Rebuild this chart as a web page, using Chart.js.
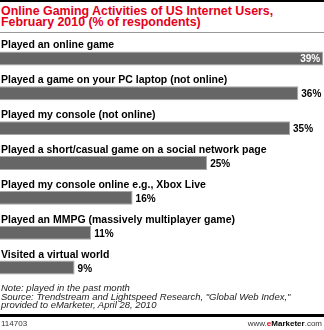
<!DOCTYPE html>
<html>
<head>
<meta charset="utf-8">
<script src="https://cdn.jsdelivr.net/npm/chart.js@4.4.0/dist/chart.umd.min.js"></script>
<style>
  html, body { margin: 0; padding: 0; width: 324px; height: 330px; overflow: hidden; background: #fff; }
  body { position: relative; font-family: 'Liberation Sans', Arial, sans-serif; }
  .topbar { position: absolute; left: 0; top: 0; width: 324px; height: 2px; background: #000; }
  .title { position: absolute; left: 1px; top: 6px; color: #e3001b; font-weight: bold; font-size: 12.4px; line-height: 11px; }
  .rule { position: absolute; left: 0; top: 32px; width: 324px; height: 1px; background: #999; }
  #wrap { position: absolute; left: 0; top: 36px; width: 324px; height: 249px; }
  .notes { position: absolute; left: 1px; top: 284px; font-style: italic; font-size: 9.5px; line-height: 8.6px; color: #222; }
  .bottombar { position: absolute; left: 0; top: 314px; width: 324px; height: 3px; background: #000; }
  .code { position: absolute; left: 1px; top: 319px; font-size: 8px; color: #333; }
  .site { position: absolute; right: 2px; top: 319px; font-size: 8px; color: #333; }
  .site b { color: #000; }
  .site .e { color: #e3001b; font-weight: bold; }
</style>
</head>
<body>
<div class="topbar"></div>
<div class="title">Online Gaming Activities of US Internet Users,<br>February 2010 (% of respondents)</div>
<div class="rule"></div>
<div id="wrap"><canvas id="chart"></canvas></div>
<div class="notes">Note: played in the past month<br>Source: Trendstream and Lightspeed Research, "Global Web Index,"<br>provided to eMarketer, April 28, 2010</div>
<div class="bottombar"></div>
<div class="code">114703</div>
<div class="site">www.<span class="e">e</span><b>Marketer</b>.com</div>
<script>
const categories = [
    'Played an online game',
    'Played a game on your PC laptop (not online)',
    'Played my console (not online)',
    'Played a short/casual game on a social network page',
    'Played my console online e.g., Xbox Live',
    'Played an MMPG (massively multiplayer game)',
    'Visited a virtual world'
];
const percentages = [39, 36, 35, 25, 16, 11, 9];

// draw category names above bars and % values at the bar ends
const barLabels = {
    id: 'barLabels',
    afterDatasetsDraw: function(chart) {
        const ctx = chart.ctx;
        const meta = chart.getDatasetMeta(0);
        const right = chart.chartArea.right;
        ctx.save();
        meta.data.forEach(function(bar, i) {
            const top = bar.y - bar.height / 2;
            ctx.font = "bold 10.5px 'Liberation Sans', Arial, sans-serif";
            ctx.fillStyle = '#000';
            ctx.textAlign = 'left';
            ctx.textBaseline = 'alphabetic';
            ctx.fillText(chart.data.labels[i], 1, top - 3);

            const txt = percentages[i] + '%';
            ctx.font = "bold 10px 'Liberation Sans', Arial, sans-serif";
            if (bar.x >= right - 3) {
                // bar runs to the edge: label goes inside
                ctx.fillStyle = '#fff';
                ctx.textAlign = 'right';
                ctx.fillText(txt, bar.x - 3, bar.y + 4);
            } else {
                ctx.fillStyle = '#000';
                ctx.textAlign = 'left';
                ctx.fillText(txt, bar.x + 3, bar.y + 4);
            }
        });
        ctx.restore();
    }
};

new Chart(document.getElementById('chart').getContext('2d'), {
    type: 'bar',
    data: {
        labels: categories,
        datasets: [{
            data: percentages,
            backgroundColor: '#666666',
            borderColor: '#a8a8a8',
            borderWidth: 1,
            barPercentage: 0.4,
            categoryPercentage: 1
        }]
    },
    options: {
        indexAxis: 'y',
        responsive: true,
        maintainAspectRatio: false,
        animation: false,
        layout: { padding: { top: 5, left: 0, right: 0, bottom: 0 } },
        plugins: {
            legend: { display: false },
            tooltip: { enabled: false }
        },
        scales: {
            x: { display: false, min: 0, max: 39.1 },
            y: { display: false }
        }
    },
    plugins: [barLabels]
});
</script>
</body>
</html>
